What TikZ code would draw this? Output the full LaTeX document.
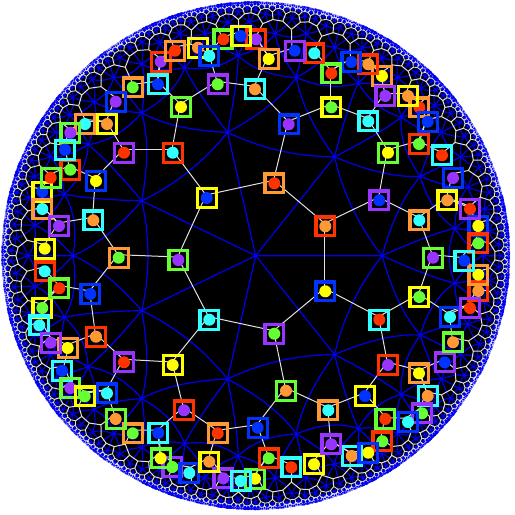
\documentclass[tikz,border=0pt]{standalone}
\definecolor{cr}{RGB}{255,51,0}
\definecolor{co}{RGB}{255,153,51}
\definecolor{cy}{RGB}{255,255,0}
\definecolor{cg}{RGB}{102,255,51}
\definecolor{cc}{RGB}{51,255,255}
\definecolor{cb}{RGB}{0,51,255}
\definecolor{cp}{RGB}{153,51,255}
\definecolor{meshblue}{RGB}{0,0,240}
\definecolor{meshwhite}{RGB}{225,225,225}
\tikzset{
  boxmark/.style={draw=#1, line width=3.2pt, rectangle, minimum size=18.8pt, inner sep=0pt, outer sep=0pt},
  dotmark/.style={fill=#1, circle, minimum size=12pt, inner sep=0pt, outer sep=0pt},
  link/.style={draw=meshwhite, line width=1pt}
}
% one unit of the tile matrices is 10pt
\newcommand\hmul[2]{#1*\number\dimexpr#2\relax/655360 }
\newcommand\setz[3]{%
  \pgfmathsetlengthmacro\tmpx{10*#2*cos(#3)}\expandafter\let\csname #1x\endcsname\tmpx
  \pgfmathsetlengthmacro\tmpy{10*#2*sin(#3)}\expandafter\let\csname #1y\endcsname\tmpy}
\setz{vA}{0.3008}{360/14}\setz{vB}{0.3008}{-360/14}
\setz{vC}{0.3008}{1080/14}\setz{vD}{0.3008}{-1080/14}
\setz{nA}{0.49697}{0}\setz{nB}{0.49697}{360/7}\setz{nC}{0.49697}{-360/7}
\setz{mA}{0.26608}{0}\setz{mB}{0.26608}{360/7}\setz{mC}{0.26608}{-360/7}
\foreach \k in {0,...,6}{
  \pgfmathsetlengthmacro\tmpx{11.52382*cos((\k*360/7+180)/2)}\expandafter\xdef\csname kcx\k\endcsname{\tmpx}
  \pgfmathsetlengthmacro\tmpy{11.52382*sin((\k*360/7+180)/2)}\expandafter\xdef\csname kcy\k\endcsname{\tmpy}
  \pgfmathsetlengthmacro\tmpx{5.72699*cos((\k*360/7-180)/2)}\expandafter\xdef\csname kdx\k\endcsname{\tmpx}
  \pgfmathsetlengthmacro\tmpy{5.72699*sin((\k*360/7-180)/2)}\expandafter\xdef\csname kdy\k\endcsname{\tmpy}
}
\newcommand\meshpt[2]{%
  \edef\pnr{\the\dimexpr\hmul\gar{#1}-\hmul\gai{#2}+\gbr\relax}%
  \edef\pni{\the\dimexpr\hmul\gar{#2}+\hmul\gai{#1}+\gbi\relax}%
  \edef\pdr{\the\dimexpr\hmul\gbr{#1}+\hmul\gbi{#2}+\gar\relax}%
  \edef\pdi{\the\dimexpr\hmul\gbr{#2}-\hmul\gbi{#1}-\gai\relax}%
  \edef\pdn{\number\dimexpr\hmul\pdr\pdr+\hmul\pdi\pdi\relax}%
  \edef\px{\the\dimexpr254.5pt*\number\dimexpr\hmul\pnr\pdr+\hmul\pni\pdi\relax/\pdn\relax}%
  \edef\py{\the\dimexpr254.5pt*\number\dimexpr\hmul\pni\pdr-\hmul\pnr\pdi\relax/\pdn\relax}%
  \edef\prr{\the\dimexpr\hmul\px\px+\hmul\py\py\relax}}
\newcommand\blueedge[4]{%
  \meshpt{#1}{#2}\let\qx\px\let\qy\py
  \pgfpathmoveto{\pgfqpoint\ox\oy}%
  \ifnum\lay<5
    \meshpt{#3}{#4}%
    \pgfpathquadraticcurveto{\pgfqpoint{\dimexpr\px*2-(\ox+\qx)/2\relax}{\dimexpr\py*2-(\oy+\qy)/2\relax}}{\pgfqpoint\qx\qy}%
  \else\pgfpathlineto{\pgfqpoint\qx\qy}\fi}
\newcommand\emitedge{\pgfpathmoveto{\pgfqpoint\sx\sy}\pgfpathlineto{\pgfqpoint\px\py}}
\newcommand\whiteedge[4]{%
  \meshpt{#1}{#2}\let\sx\px\let\sy\py\let\sr\prr
  \meshpt{#3}{#4}%
  \ifdim\sr<4680pt \ifdim\prr<4680pt \else\emitedge\fi \else\emitedge\fi}
\newcommand\meshdraw[2]{%
  \def\lay{#1}%
  \ifcase\meshpass
    \ifnum#1>0
      \ifnum#1<7
      \meshpt{0pt}{0pt}\let\ox\px\let\oy\py
      \blueedge\nAx\nAy\mAx\mAy
      \blueedge\nBx\nBy\mBx\mBy
      \ifnum#2=2 \blueedge\nCx\nCy\mCx\mCy\fi
      \pgfsetlinewidth{\csname lb#1\endcsname}\pgfusepath{stroke}%
      \fi
    \fi
  \or
    \ifnum#1>0
      \whiteedge\vBx\vBy\vAx\vAy
      \whiteedge\vAx\vAy\vCx\vCy
      \ifnum#2=2 \whiteedge\vDx\vDy\vBx\vBy\fi
      \pgfsetlinewidth{\csname lw#1\endcsname}\pgfusepath{stroke}%
    \fi
  \or
    \meshpt{0pt}{0pt}%
    \pgfpathcircle{\pgfqpoint\px\py}{\csname dr#1\endcsname}\pgfusepath{fill}%
  \fi}
\newcommand\meshtile[2]{%
  \meshdraw{#1}{#2}%
  \ifnum#1<7
    \ifnum#2=1 \meshkid{#1}{3}{1}\meshkid{#1}{4}{1}\meshkid{#1}{5}{2}%
    \else \meshkid{#1}{3}{1}\meshkid{#1}{4}{2}\fi
  \fi}
\newcommand\meshkid[3]{\begingroup
  \edef\kcx{\csname kcx#2\endcsname}\edef\kcy{\csname kcy#2\endcsname}%
  \edef\kdx{\csname kdx#2\endcsname}\edef\kdy{\csname kdy#2\endcsname}%
  \edef\nar{\the\dimexpr\hmul\gar\kcx-\hmul\gai\kcy+\hmul\gbr\kdx+\hmul\gbi\kdy\relax}%
  \edef\nai{\the\dimexpr\hmul\gar\kcy+\hmul\gai\kcx+\hmul\gbi\kdx-\hmul\gbr\kdy\relax}%
  \edef\nbr{\the\dimexpr\hmul\gar\kdx-\hmul\gai\kdy+\hmul\gbr\kcx+\hmul\gbi\kcy\relax}%
  \edef\nbi{\the\dimexpr\hmul\gar\kdy+\hmul\gai\kdx+\hmul\gbi\kcx-\hmul\gbr\kcy\relax}%
  \let\gar\nar\let\gai\nai\let\gbr\nbr\let\gbi\nbi
  \expandafter\meshtile\expandafter{\the\numexpr#1+1\relax}{#3}\endgroup}
\newcommand\meshall{\begingroup
  \def\gar{10pt}\def\gai{0pt}\def\gbr{0pt}\def\gbi{0pt}%
  \meshdraw{0}{1}%
  \meshkid{0}{0}{1}\meshkid{0}{1}{1}\meshkid{0}{2}{1}\meshkid{0}{3}{1}\meshkid{0}{4}{1}\meshkid{0}{5}{1}\meshkid{0}{6}{1}%
  \endgroup}
\expandafter\def\csname lb1\endcsname{1.2pt}\expandafter\def\csname lb2\endcsname{1.2pt}
\expandafter\def\csname lb3\endcsname{1.2pt}\expandafter\def\csname lb4\endcsname{1.1pt}
\expandafter\def\csname lb5\endcsname{0.7pt}\expandafter\def\csname lb6\endcsname{0.3pt}
\expandafter\def\csname lw1\endcsname{1pt}\expandafter\def\csname lw2\endcsname{1pt}
\expandafter\def\csname lw3\endcsname{1pt}\expandafter\def\csname lw4\endcsname{1pt}
\expandafter\def\csname lw5\endcsname{0.85pt}\expandafter\def\csname lw6\endcsname{0.5pt}
\expandafter\def\csname lw7\endcsname{0.2pt}
\expandafter\def\csname dr0\endcsname{1.3pt}\expandafter\def\csname dr1\endcsname{1.3pt}
\expandafter\def\csname dr2\endcsname{1.4pt}\expandafter\def\csname dr3\endcsname{1.5pt}
\expandafter\def\csname dr4\endcsname{1.7pt}\expandafter\def\csname dr5\endcsname{1.8pt}
\expandafter\def\csname dr6\endcsname{1pt}\expandafter\def\csname dr7\endcsname{0.35pt}
\newcommand\markerlist{7/160.7/61.7/cr/cp, 20/70.3/169.7/cr/cg, 14/85/124/co/cc, 3/256/39.3/cr/cp,
32/42.3/308/cy/cg, 35/67.7/348/co/cy, 54/255/478.7/cg/cy, 74/351.7/456/cc/co, 68/427.7/396/cc/co,
4/198/47.7/cy/co, 5/175/50.7/co/cr, 1/223.3/39.3/cg/cr, 2/240.7/36/cy/cb,
88/382/76/co/cy, 87/368.3/64.3/cr/co, 91/419.3/107.3/co/cr, 90/408/96/cy/co,
16/70.3/132.7/cg/cp, 17/65/149.7/cc/cb, 23/42.3/191.7/cy/cb, 21/50.7/177.7/cg/cr,
33/39.3/325.3/cc/cc, 34/50.7/342.7/cp/cp, 39/62/370.7/cc/cb, 40/70.3/388/cg/cp,
49/172.3/467/cp/cg, 50/189.3/473/cb/cc, 52/223.3/478.3/cp/cp, 53/240.7/481/cc/cc,
60/478.3/291/cr/co, 61/478.3/274.7/co/cy, 69/422/413.3/cp/cg, 70/408/422/cb/cc,
72/382.3/441.3/cr/cg, 73/368.3/452.7/cb/cy, 99/478.3/226/cb/cy, 100/478.3/243.3/cr/cg,
6/209.3/56/cb/cc, 8/158/84.3/cc/cb, 9/132.7/87.3/co/cg, 13/115.7/101.7/cb/cp, 15/107/124/cy/co,
22/96/181/cb/cy, 24/42.3/209/co/cc, 26/59/226/cp/cp, 27/44.7/248.7/cy/cy, 29/44.7/271.3/cr/cc,
30/59.3/288.3/cg/cr, 41/84.7/396.3/cy/cg, 42/107/393.3/cb/cc, 44/132.7/433.3/co/cg, 43/115.7/419/cg/co,
45/158.3/433/cc/cb, 48/160.7/458.3/cg/cy, 51/209.3/461.7/cy/co, 47/217.7/433.3/co/cr,
80/291.3/467.3/cc/cr, 79/314/464.3/cy/cy, 81/268.7/458.3/cr/cg, 77/331.3/444.3/cp/cp, 71/385.3/419/cg/cr,
67/419/373.3/co/cy, 65/444.7/362.3/cp/cb, 64/453/342.3/cg/co, 58/450/317/cb/cc, 59/470/308/cp/cr,
63/433/257.7/cg/cp, 62/464.3/260.7/cc/cb, 98/470/209/cp/cr, 97/447.3/200.3/cy/co, 96/453/178/cb/cp,
95/442/155.3/cc/cr, 93/419/144/cr/cg, 92/427.7/121.7/cb/cb, 89/385.3/96/cp/cp, 105/368.3/121.3/cc/cc,
86/351.3/62/cb/cb, 85/331.3/73.3/cg/cr, 84/314.3/53.3/cr/cc, 83/294.7/50.7/cp/cb, 82/268.7/59/co/cy,
10/217.7/84.3/cp/cg, 11/255/89.3/cc/co, 12/181/107/cg/cy, 18/124/152.7/cp/cr, 19/172.7/152.7/cr/cc,
25/93.3/220.3/cc/co, 28/118.7/257.7/co/cg, 31/90.3/294/cb/cb, 36/96/336.7/cr/co, 37/124/362.3/cp/cr,
38/172.7/365/cy/cy, 46/184/410.3/cr/cp, 55/257.7/427.7/cb/cb, 76/328.3/410.3/co/cc, 75/365/396/cy/cb,
66/388/365/cr/cp, 57/419.3/297/cy/cg, 56/379.3/319.7/cc/cr, 78/286/390.7/cg/co, 94/388/152.7/cg/cy,
102/419.3/220.3/co/cc, 103/379.3/200.3/cp/cb, 104/331.3/107.3/cy/cg, 106/288.7/124.3/cb/cp,
110/206.7/198/cy/cb, 111/274.3/183.3/co/cr, 112/325.3/226.3/cr/co, 113/325.3/291.3/cb/cy,
114/274.3/333.7/cp/cg, 115/209.3/319.7/cc/cc, 116/178.3/260/cg/cp}
\begin{document}
\begin{tikzpicture}[x=1pt,y=-1pt]
\useasboundingbox (0,0) rectangle (515,515);
\fill[black] (255.7,255.7) circle (249.5);
\begin{scope}[shift={(255.7,255.7)}]
\pgfsetcolor{meshblue}\def\meshpass{0}\meshall
\pgfsetcolor{meshwhite}\def\meshpass{1}\meshall
\pgfsetcolor{meshblue}\def\meshpass{2}\meshall
\end{scope}
\foreach \i/\x/\y/\f/\d in \markerlist \coordinate (v\i) at (\x-0.7,\y-3);
\foreach \a/\b in {110/111,111/112,112/113,113/114,114/115,115/116,116/110,
110/19,111/106,112/103,113/56,114/78,115/38,116/28,
19/18,19/12,106/11,106/104,103/94,103/102,56/57,56/66,78/76,78/55,38/37,38/46,28/25,28/31,
18/15,18/22,12/10,12/8,11/10,11/82,104/85,104/105,94/105,94/93,102/97,102/63,57/63,57/58,
66/67,66/75,76/75,76/77,55/81,55/47,46/47,46/45,37/42,37/36,31/36,31/30,25/26,25/22,
15/13,15/14,22/20,10/6,8/7,8/9,82/83,82/3,85/84,85/86,105/89,93/92,93/95,97/96,97/98,63/62,
58/59,58/64,67/65,67/68,75/71,77/74,77/79,81/80,81/54,47/51,45/48,45/44,42/41,42/43,36/35,
30/29,30/32,26/24,26/27}
\draw[link] (v\a) -- (v\b);
\foreach \i/\x/\y/\f/\d in \markerlist {
\node[dotmark=\d] (d\i) at (\x,\y) {};
\node[boxmark=\f] (n\i) at (\x,\y) {};
}
\end{tikzpicture}
\end{document}
